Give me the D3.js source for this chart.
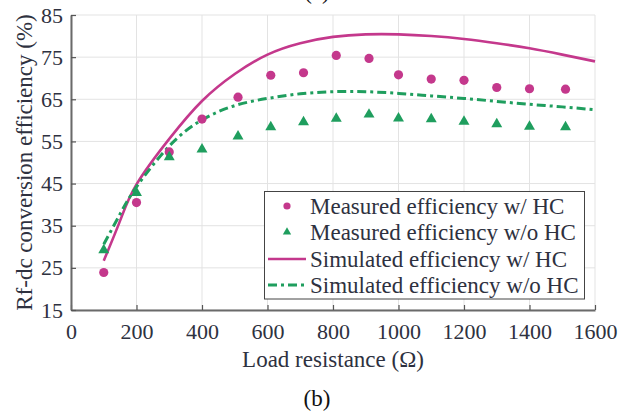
<!DOCTYPE html>
<html>
<head>
<meta charset="utf-8">
<script src="https://cdn.jsdelivr.net/npm/d3@7"></script>
<style>
  body { margin: 0; background: #fff; }
  svg { display: block; font-family: "Liberation Serif", "Times New Roman", serif; }
</style>
</head>
<body>
<div id="chart"></div>
<script>
// measured points
var resistance = [100, 200, 300, 400, 510, 610, 710, 810, 910, 1000, 1100, 1200, 1300, 1400, 1510];
var measuredHC = [23.9, 40.5, 52.5, 60.3, 65.5, 70.7, 71.3, 75.4, 74.7, 70.8, 69.8, 69.5, 67.8, 67.5, 67.4];
var measuredNoHC = [29.2, 42.8, 51.3, 53.1, 56.2, 58.4, 59.6, 60.4, 61.4, 60.5, 60.3, 59.7, 59.1, 58.5, 58.4];

// simulated curves
var simResistance = [100, 150, 200, 300, 400, 500, 600, 700, 800, 900, 1000, 1100, 1200, 1300, 1400, 1500, 1600];
var simHC = [26.7, 36.2, 44.8, 55.6, 64.6, 71.0, 75.6, 78.3, 79.8, 80.4, 80.4, 80.0, 79.3, 78.3, 77.1, 75.6, 74.0];
var simNoHC = [30.6, 37.8, 44.2, 53.9, 60.1, 63.5, 65.2, 66.3, 66.8, 66.8, 66.4, 65.8, 65.2, 64.5, 63.8, 63.2, 62.5];

var xTicks = [0, 200, 400, 600, 800, 1000, 1200, 1400, 1600];
var yTicks = [15, 25, 35, 45, 55, 65, 75, 85];
var legendLabels = ["Measured efficiency w/ HC", "Measured efficiency w/o HC",
                    "Simulated efficiency w/ HC", "Simulated efficiency w/o HC"];

var magenta = "#c4388c";
var green = "#1f9e5e";

var width = 630, height = 414;
var mLeft = 71, mRight = 595, mTop = 15, mBottom = 310;

var svg = d3.select("#chart").append("svg")
    .attr("width", width)
    .attr("height", height);

var x = d3.scaleLinear().domain([0, 1600]).range([mLeft, mRight]);
var y = d3.scaleLinear().domain([15, 85]).range([mBottom, mTop]);

// grid
var grid = svg.append("g").attr("stroke", "#e3e3e3").attr("stroke-width", 1);
grid.selectAll(".gx").data(xTicks).enter().append("line")
    .attr("x1", function(d) { return x(d); }).attr("x2", function(d) { return x(d); })
    .attr("y1", mTop).attr("y2", mBottom);
grid.selectAll(".gy").data(yTicks).enter().append("line")
    .attr("y1", function(d) { return y(d); }).attr("y2", function(d) { return y(d); })
    .attr("x1", mLeft).attr("x2", mRight);

// axes
var xAxis = svg.append("g")
    .attr("transform", "translate(0," + mBottom + ")")
    .call(d3.axisBottom(x).tickValues(xTicks).tickFormat(d3.format("d"))
        .tickSizeInner(-5).tickSizeOuter(0).tickPadding(13));
var yAxis = svg.append("g")
    .attr("transform", "translate(" + mLeft + ",0)")
    .call(d3.axisLeft(y).tickValues(yTicks).tickFormat(d3.format("d"))
        .tickSizeInner(-5).tickSizeOuter(0).tickPadding(8));

[xAxis, yAxis].forEach(function(a) {
    a.attr("font-family", null).attr("font-size", null);
    a.select(".domain").attr("stroke", "#6a6a6a").attr("stroke-width", 2);
    a.selectAll(".tick line").attr("stroke", "#555").attr("stroke-width", 1.2);
    a.selectAll(".tick text")
        .attr("fill", "#2e3140")
        .style("font-size", "22px");
});

// axis titles
svg.append("text")
    .attr("x", (mLeft + mRight) / 2).attr("y", 367)
    .attr("text-anchor", "middle")
    .attr("fill", "#2e3140")
    .style("font-size", "23px")
    .text("Load resistance (\u03A9)");

svg.append("text")
    .attr("transform", "translate(32," + (mTop + mBottom) / 2 + ") rotate(-90)")
    .attr("text-anchor", "middle")
    .attr("fill", "#2e3140")
    .style("font-size", "23px")
    .text("Rf-dc conversion efficiency (%)");

svg.append("text")
    .attr("x", 317).attr("y", 406)
    .attr("text-anchor", "middle")
    .attr("fill", "#111")
    .style("font-size", "23px")
    .text("(b)");

svg.append("text")
    .attr("x", 317).attr("y", -1)
    .attr("text-anchor", "middle")
    .attr("fill", "#111")
    .style("font-size", "23px")
    .text("(a)");

// simulated lines
var line = d3.line()
    .x(function(d) { return x(d[0]); })
    .y(function(d) { return y(d[1]); })
    .curve(d3.curveNatural);

svg.append("path")
    .datum(d3.zip(simResistance, simHC))
    .attr("d", line)
    .attr("fill", "none")
    .attr("stroke", magenta)
    .attr("stroke-width", 2.6);

svg.append("path")
    .datum(d3.zip(simResistance, simNoHC))
    .attr("d", line)
    .attr("fill", "none")
    .attr("stroke", green)
    .attr("stroke-width", 3)
    .attr("stroke-dasharray", "9,4,3,4");

// measured markers
svg.selectAll(".circ")
    .data(d3.zip(resistance, measuredHC))
    .enter().append("circle")
    .attr("cx", function(d) { return x(d[0]); })
    .attr("cy", function(d) { return y(d[1]); })
    .attr("r", 4.6)
    .attr("fill", magenta);

var tri = d3.symbol().type(d3.symbolTriangle).size(52);
svg.selectAll(".tri")
    .data(d3.zip(resistance, measuredNoHC))
    .enter().append("path")
    .attr("d", tri)
    .attr("transform", function(d) { return "translate(" + x(d[0]) + "," + y(d[1]) + ")"; })
    .attr("fill", green);

// legend
var lg = svg.append("g");
lg.append("rect")
    .attr("x", 264.5).attr("y", 191.5)
    .attr("width", 320).attr("height", 107.5)
    .attr("fill", "#fff")
    .attr("stroke", "#444")
    .attr("stroke-width", 1);

var rowY = [206, 232, 259, 285];
lg.selectAll("text").data(legendLabels).enter().append("text")
    .attr("x", 310)
    .attr("y", function(d, i) { return rowY[i]; })
    .attr("dy", "0.33em")
    .attr("fill", "#2e3140")
    .style("font-size", "23px")
    .text(function(d) { return d; });

lg.append("circle").attr("cx", 287).attr("cy", rowY[0]).attr("r", 3.6).attr("fill", magenta);
lg.append("path").attr("d", d3.symbol().type(d3.symbolTriangle).size(30))
    .attr("transform", "translate(287," + rowY[1] + ")").attr("fill", green);
lg.append("line").attr("x1", 268).attr("x2", 306).attr("y1", rowY[2]).attr("y2", rowY[2])
    .attr("stroke", magenta).attr("stroke-width", 2.6);
lg.append("line").attr("x1", 268).attr("x2", 306).attr("y1", rowY[3]).attr("y2", rowY[3])
    .attr("stroke", green).attr("stroke-width", 3).attr("stroke-dasharray", "9,4,3,4");
</script>
</body>
</html>
